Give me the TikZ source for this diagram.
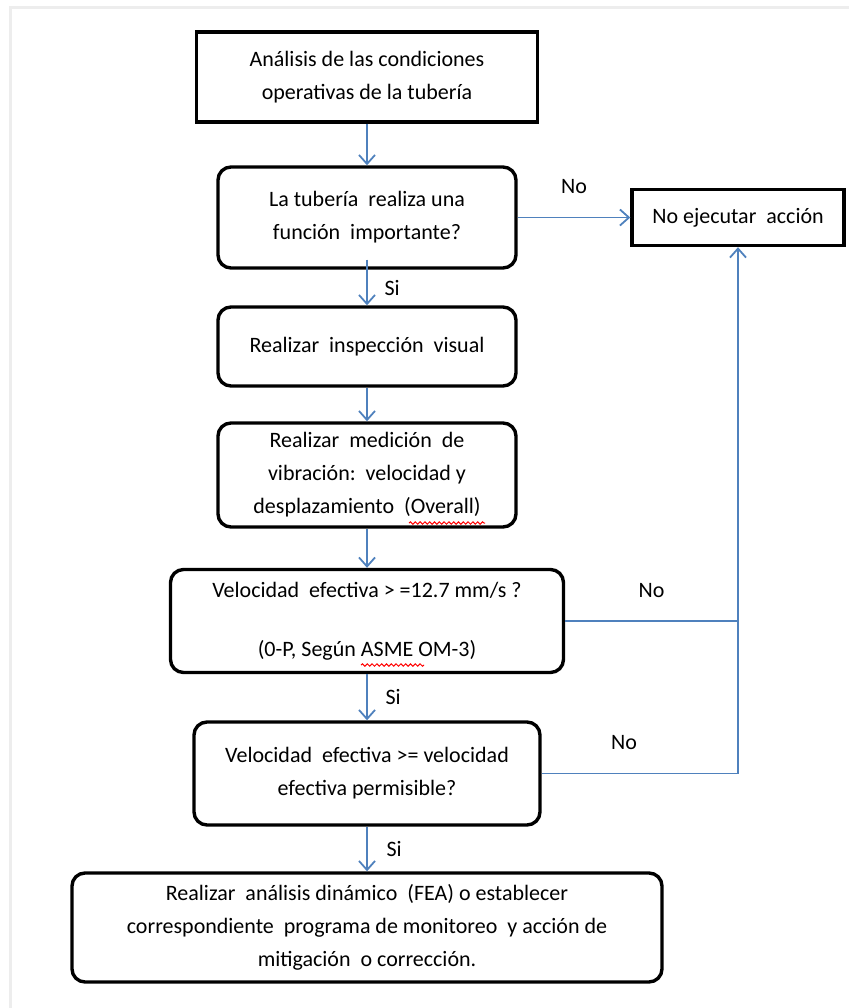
\documentclass[tikz,border=0pt]{standalone}
\usepackage{fontspec}
\setmainfont{Carlito}
\usetikzlibrary{%
  arrows.meta,%
  positioning,% wg. " of "
  decorations.pathmorphing,% spell marks
  calc%
}
\definecolor{flowblue}{RGB}{79,129,189}

\begin{document}
\begin{tikzpicture}[x=0.5pt,y=-0.5pt,
  font=\fontsize{11}{16.5}\selectfont,
  box/.style={draw, rectangle, line width=1.7pt, align=center, inner sep=2pt},
  rbox/.style={box, rounded corners=6.5pt},
  flow/.style={draw=flowblue, line width=0.9pt, -{Straight Barb[length=4.5pt,width=8pt]}},
  link/.style={draw=flowblue, line width=0.9pt},
  spellmark/.style={red, line width=0.5pt, decorate, decoration={snake, amplitude=0.6pt, segment length=2.4pt}}]
\useasboundingbox (0,0) rectangle (849,1008);
\draw[black!7, line width=1.5pt] (10,1008) -- (10,7) -- (849,7);

%Boxes of the main column
\node[box, minimum width=170.5pt, minimum height=45pt] (analisis) at (367,77) {An\'alisis de las condiciones\\operativas de la tuber\'ia};
\node[rbox, minimum width=149pt, minimum height=50.5pt] (funcion) at (367,217.5) {La tuber\'ia\ \ realiza una\\funci\'on\ \ importante?};
\node[rbox, minimum width=149pt, minimum height=39.5pt] (inspeccion) at (367,346.5) {Realizar\ \ inspecci\'on\ \ visual};
\node[rbox, minimum width=149pt, minimum height=52pt] (medicion) at (367,475) {Realizar\ \ medici\'on\ \ de\\vibraci\'on:\ \ velocidad y\\desplazamiento\ \ (Overall)};
\node[rbox, minimum width=196.5pt, minimum height=51.5pt] (velocidad) at (367,621) {Velocidad\ \ efectiva > =12.7 mm/s ?\\[13pt](0-P, Seg\'un ASME OM-3)};
\node[rbox, minimum width=173pt, minimum height=51.5pt] (permisible) at (367,773.5) {Velocidad\ \ efectiva >= velocidad\\efectiva permisible?};
\node[rbox, minimum width=295pt, minimum height=54.5pt] (fea) at (367,927.5) {Realizar\ \ an\'alisis din\'amico\ \ (FEA) o establecer\\correspondiente\ \ programa de monitoreo\ \ y acci\'on de\\mitigaci\'on\ \ o correcci\'on.};

%Exit box
\node[box, minimum width=106pt, minimum height=28pt] (noaccion) at (738,217.5) {No ejecutar\ \ acci\'on};

%spell check marks under Overall and ASME
\draw[spellmark] (409,523) -- (485,523);
\draw[spellmark] (361,665) -- (424,665);

% Main column arrows
\draw[flow] (analisis) -- (funcion);
\draw[flow] ([yshift=5pt]funcion.south) -- (inspeccion.north) node[pos=0.62, right=5pt] {Si};
\draw[flow] (inspeccion) -- (medicion);
\draw[flow] (medicion) -- (velocidad);
\draw[flow] (velocidad) -- (permisible) node[midway, right=5.5pt] {Si};
\draw[flow] (permisible) -- (fea) node[midway, right=6pt] {Si};

% No branches
\draw[flow] (funcion.east) -- (noaccion.west) node[midway, above=8pt] {No};
\draw[flow] (velocidad.east) -- (velocidad.east -| noaccion.south) node[midway, above=8pt] {No} -- (noaccion.south);
\draw[link] (permisible.east) -- (permisible.east -| noaccion.south) node[pos=0.42, above=8pt] {No} -- (velocidad.east -| noaccion.south);
\end{tikzpicture}
\end{document}
